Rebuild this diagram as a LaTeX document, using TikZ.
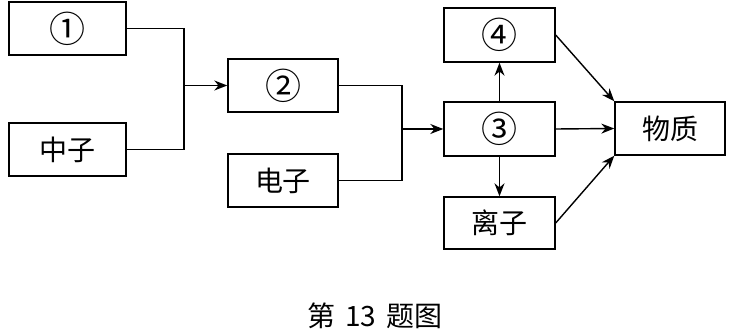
\documentclass[tikz,border=0pt]{standalone}
\usepackage{fontspec}
\newfontfamily\cjk{Noto Sans CJK SC}
\usetikzlibrary{arrows.meta}
\begin{document}
\begin{tikzpicture}[x=0.5pt,y=-0.5pt,
  box/.style={draw,line width=0.7pt,inner sep=0pt,minimum width=#1,minimum height=26.5pt,font=\cjk\fontsize{14pt}{16pt}\selectfont},
  box/.default=56pt,
  num/.style={font=\cjk\fontsize{18pt}{20pt}\selectfont},
  ln/.style={line width=0.7pt},
  arr/.style={line width=0.7pt,-{Stealth[length=6.5pt,width=5pt]}}]
\useasboundingbox (0,0) rectangle (730,331);
\node[box=58.5pt,num] (n1) at (67.5,28.5) {①};
\node[box=58.5pt] (zz) at (67.5,149.5) {中子};
\node[box=55pt,num] (n2) at (283,85.5) {②};
\node[box=55pt] (dz) at (283,180.5) {电子};
\node[box=55.5pt,num,minimum height=27pt] (n4) at (499.5,35) {④};
\node[box=55.5pt,num,minimum height=27pt] (n3) at (499.5,129) {③};
\node[box=55.5pt,minimum height=26pt] (lz) at (499.5,223) {离子};
\node[box=55pt] (wz) at (670,128.5) {物质};
\node[font=\cjk\fontsize{14pt}{16pt}\selectfont] (cap) at (375,316) {第\hspace{5pt}13\hspace{5pt}题图};
\coordinate (j1) at (184,85.5);
\coordinate (j2) at (402,129);
\draw[ln] (n1.east) -| (j1) |- (zz.east);
\draw[arr] (j1) -- (n2.west);
\draw[ln] (n2.east) -| (j2) |- (dz.east);
\draw[arr] (j2) -- (n3.west);
\draw[arr] (n3.north) -- (n4.south);
\draw[arr] (n3.south) -- (lz.north);
\draw[arr] (n3.east) -- (wz.west);
\draw[arr] (n4.east) -- (wz.north west);
\draw[arr] (lz.east) -- (wz.south west);
\end{tikzpicture}
\end{document}
